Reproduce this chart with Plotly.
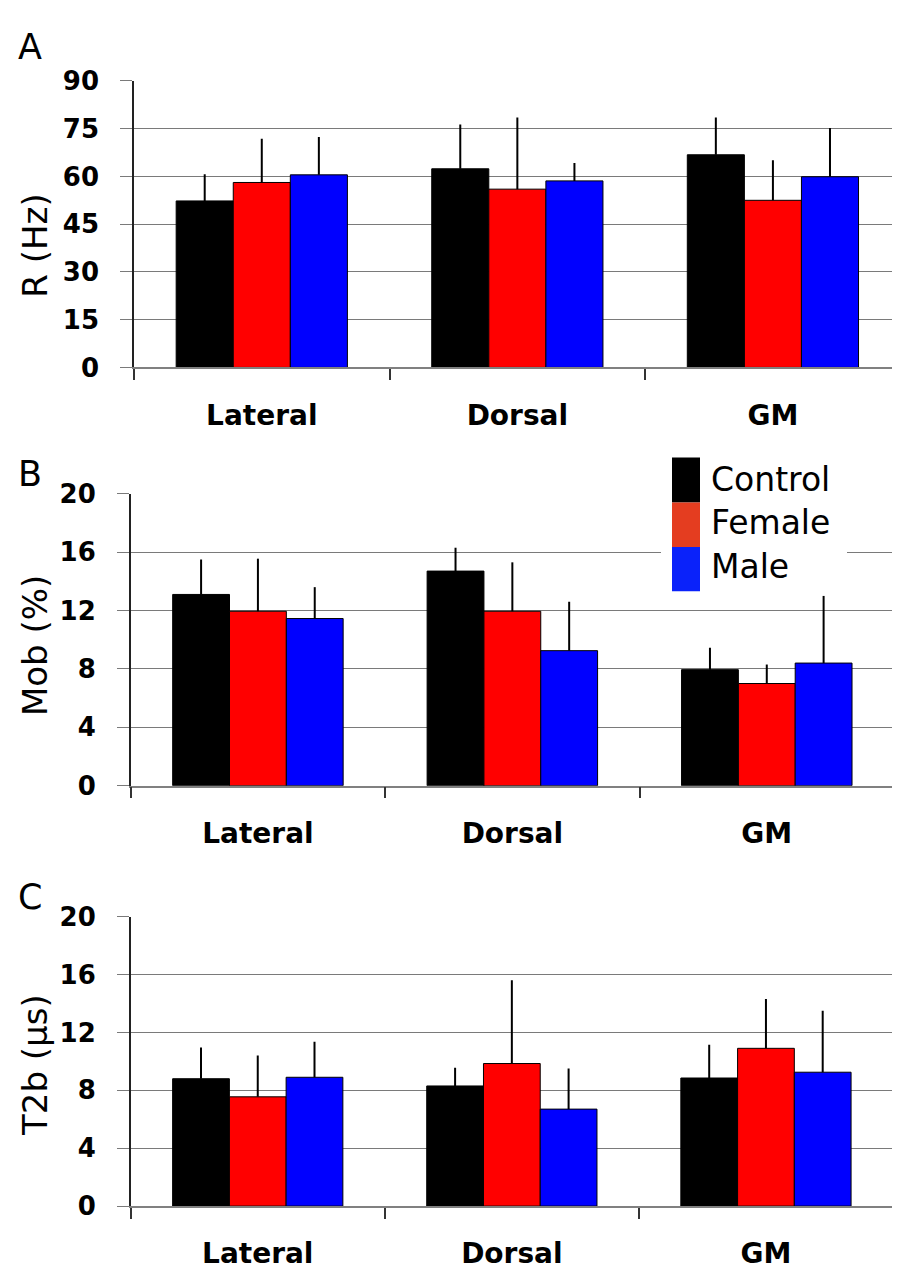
import plotly.graph_objects as go

W, H = 900, 1281

regions = ["Lateral", "Dorsal", "GM"]
groups = ["Control", "Female", "Male"]
bar_colors = ["#000000", "#FF0000", "#0000FF"]
legend_colors = ["#000000", "#E43D20", "#0A22FA"]

# Panel A: R (Hz)
r_control = [52.3, 62.4, 66.8]
r_control_err = [8.4, 13.9, 11.7]
r_female = [58.1, 56.0, 52.5]
r_female_err = [13.7, 22.5, 12.6]
r_male = [60.5, 58.6, 59.9]
r_male_err = [11.9, 5.6, 15.3]

# Panel B: Mob (%)
mob_control = [13.1, 14.7, 7.95]
mob_control_err = [2.4, 1.6, 1.5]
mob_female = [11.95, 11.95, 7.0]
mob_female_err = [3.6, 3.35, 1.3]
mob_male = [11.45, 9.25, 8.4]
mob_male_err = [2.15, 3.35, 4.6]

# Panel C: T2b (us)
t2b_control = [8.8, 8.3, 8.85]
t2b_control_err = [2.15, 1.25, 2.3]
t2b_female = [7.55, 9.85, 10.9]
t2b_female_err = [2.85, 5.75, 3.4]
t2b_male = [8.9, 6.7, 9.25]
t2b_male_err = [2.45, 2.8, 4.25]

y_ticks_a = [0, 15, 30, 45, 60, 75, 90]
y_ticks_bc = [0, 4, 8, 12, 16, 20]

panels = [
    dict(vals=[r_control, r_female, r_male],
         errs=[r_control_err, r_female_err, r_male_err],
         ticks=y_ticks_a, title="R (Hz)", letter="A",
         xpx=(126, 892.7), ypx=(59.3, 352.7), title_y=228, letter_y=25),
    dict(vals=[mob_control, mob_female, mob_male],
         errs=[mob_control_err, mob_female_err, mob_male_err],
         ticks=y_ticks_bc, title="Mob (%)", letter="B",
         xpx=(122.7, 886), ypx=(482, 781), title_y=638, letter_y=462),
    dict(vals=[t2b_control, t2b_female, t2b_male],
         errs=[t2b_control_err, t2b_female_err, t2b_male_err],
         ticks=y_ticks_bc, title="T2b (\u03bcs)", letter="C",
         xpx=(122.7, 885), ypx=(915, 1211.5), title_y=1067, letter_y=895),
]

def px2x(x):
    return x / W

def px2y(y):
    return 1 - y / H

fig = go.Figure()
layout = dict(
    width=W, height=H,
    margin=dict(l=0, r=0, t=0, b=0),
    paper_bgcolor="white", plot_bgcolor="white",
    barmode="group", bargap=0.33, bargroupgap=0,
    showlegend=False,
    font=dict(family="DejaVu Sans", color="black"),
)
shapes = []
annotations = []

for i, p in enumerate(panels):
    n = "" if i == 0 else str(i + 1)
    xa, ya = "x" + n, "y" + n
    for g, vals, errs, col in zip(groups, p["vals"], p["errs"], bar_colors):
        fig.add_trace(go.Bar(
            x=regions, y=vals, name=g, xaxis=xa, yaxis=ya,
            marker=dict(color=col, line=dict(color="black", width=1)),
            error_y=dict(type="data", symmetric=False, array=errs,
                         arrayminus=[0] * len(errs), color="black",
                         thickness=2, width=0),
        ))
    layout["xaxis" + n] = dict(
        domain=[px2x(p["xpx"][0]), px2x(p["xpx"][1])],
        anchor=ya, type="category", range=[-0.5, 2.5],
        tickson="boundaries", ticks="outside", ticklen=11, tickwidth=1.5,
        tickcolor="#333333", showline=True, linecolor="#808080", linewidth=1.5,
        showgrid=False,
        tickfont=dict(family="DejaVu Sans", size=28, weight="bold", color="black"),
        ticklabelstandoff=22,
    )
    top = max(p["ticks"])
    layout["yaxis" + n] = dict(
        domain=[px2y(p["ypx"][1]), px2y(p["ypx"][0])],
        anchor=xa, range=[0, top], tickvals=p["ticks"],
        showgrid=True, gridcolor="#7a7a7a", gridwidth=1.4,
        zeroline=False, ticks="outside", ticklen=12, tickcolor="#7a7a7a",
        tickwidth=1.4, showline=True, linecolor="#222222", linewidth=1.5,
        tickfont=dict(family="DejaVu Sans", size=26, weight="bold", color="black"),
        ticklabelstandoff=16,
    )
    # right border
    shapes.append(dict(type="line", xref=xa + " domain", yref=ya + " domain",
                       x0=1, x1=1, y0=0, y1=1,
                       line=dict(color="#b0b0b0", width=1.5)))
    annotations.append(dict(text=p["title"], xref="paper", yref="paper",
                            x=px2x(27), y=px2y(p["title_y"]), textangle=-90,
                            showarrow=False, xanchor="center", yanchor="middle",
                            font=dict(family="DejaVu Sans", size=34, color="black")))
    annotations.append(dict(text=p["letter"], xref="paper", yref="paper",
                            x=px2x(22), y=px2y(p["letter_y"]),
                            showarrow=False, xanchor="center", yanchor="middle",
                            font=dict(family="DejaVu Sans", size=35, color="black")))

# Legend (panel B)
shapes.append(dict(type="rect", xref="paper", yref="paper", layer="above",
                   x0=px2x(653), x1=px2x(839), y0=px2y(586), y1=px2y(440),
                   fillcolor="white", line=dict(width=0)))
sw_top = [445, 491, 536.5]
sw_bot = [491, 536.5, 582]
txt_y = [467, 511, 557]
for g, c, t, b, ty in zip(groups, legend_colors, sw_top, sw_bot, txt_y):
    shapes.append(dict(type="rect", xref="paper", yref="paper", layer="above",
                       x0=px2x(664), x1=px2x(692), y0=px2y(b), y1=px2y(t),
                       fillcolor=c, line=dict(width=0)))
    annotations.append(dict(text=g, xref="paper", yref="paper",
                            x=px2x(701), y=px2y(ty), showarrow=False,
                            xanchor="left", yanchor="middle",
                            font=dict(family="DejaVu Sans", size=33, color="black")))

layout["shapes"] = shapes
layout["annotations"] = annotations
fig.update_layout(**layout)
fig.write_html("out.html")
